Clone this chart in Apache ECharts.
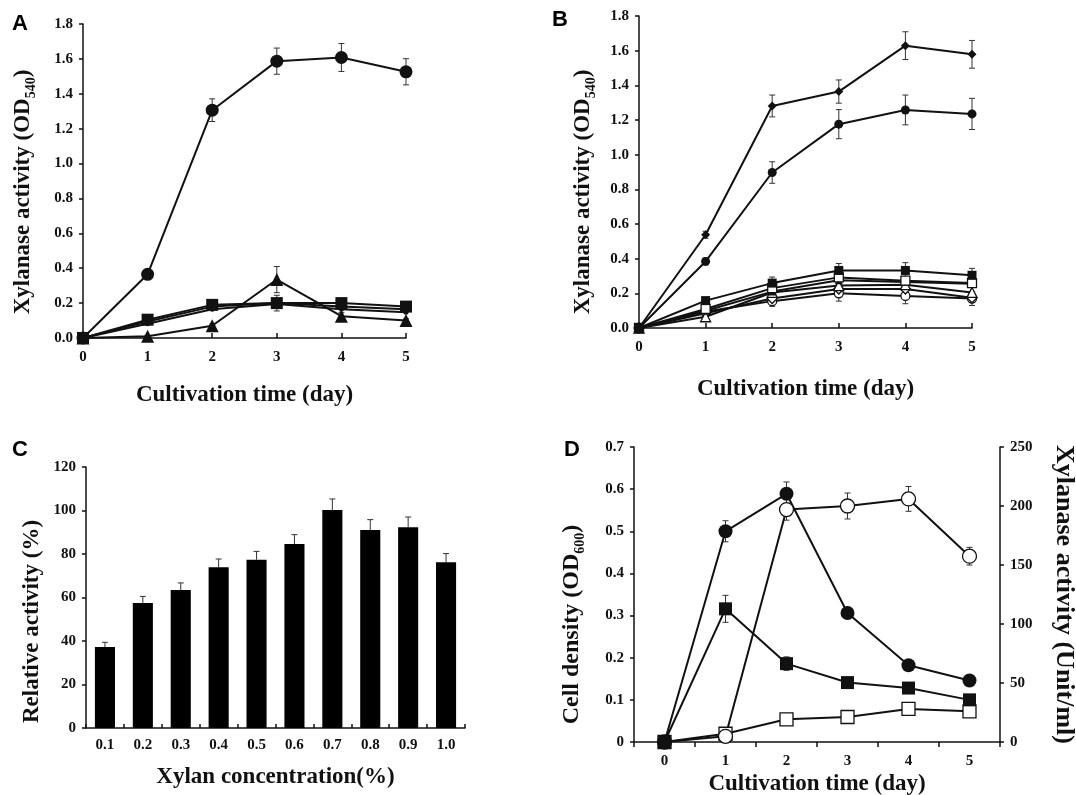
<!DOCTYPE html>
<html>
<head>
<meta charset="utf-8">
<script src="https://cdn.jsdelivr.net/npm/echarts@6/dist/echarts.min.js"></script>
<style>
  html, body { margin: 0; padding: 0; background: #fff; }
  #main { width: 1076px; height: 795px; }
</style>
</head>
<body>
<div id="main"></div>
<script>
// panel A - xylanase activity of different strains
var days = [0, 1, 2, 3, 4, 5];
var aCircle = [0, 0.365, 1.306, 1.587, 1.608, 1.526];
var aCircleErr = [0, 0.01, 0.065, 0.075, 0.08, 0.075];
var aSquare = [0, 0.105, 0.19, 0.2, 0.2, 0.18];
var aSquareErr = [0, 0.01, 0.03, 0.045, 0.02, 0.02];
var aMid = [0, 0.095, 0.18, 0.2, 0.18, 0.165];
var aLow = [0, 0.082, 0.165, 0.195, 0.165, 0.148];
var aTriangle = [0, 0.01, 0.07, 0.335, 0.125, 0.1];
var aTriangleErr = [0, 0.005, 0.01, 0.075, 0.02, 0.01];

// panel B
var bDiamond = [0, 0.538, 1.281, 1.364, 1.629, 1.579];
var bDiamondErr = [0, 0.02, 0.063, 0.067, 0.08, 0.08];
var bCircle = [0, 0.384, 0.897, 1.176, 1.258, 1.235];
var bCircleErr = [0, 0.02, 0.062, 0.084, 0.086, 0.09];
var bSquare = [0, 0.158, 0.259, 0.332, 0.332, 0.304];
var bSquareErr = [0, 0.01, 0.035, 0.04, 0.045, 0.04];
var bOpenSquare = [0, 0.11, 0.23, 0.292, 0.273, 0.259];
var bDark = [0, 0.1, 0.21, 0.275, 0.265, 0.255];
var bOpenTriangle = [0, 0.065, 0.205, 0.245, 0.25, 0.205];
var bOpenDiamond = [0, 0.085, 0.17, 0.225, 0.225, 0.175];
var bOpenCircle = [0, 0.095, 0.155, 0.2, 0.185, 0.17];
var bOpenCircleErr = [0, 0.01, 0.03, 0.045, 0.045, 0.04];

// panel C - relative activity vs xylan concentration
var xylanConc = ['0.1', '0.2', '0.3', '0.4', '0.5', '0.6', '0.7', '0.8', '0.9', '1.0'];
var relActivity = [37.2, 57.5, 63.4, 73.9, 77.4, 84.6, 100.2, 91.0, 92.3, 76.2];
var relActivityErr = [2.2, 3.0, 3.3, 3.8, 3.8, 4.3, 5.1, 4.8, 4.7, 4.0];

// panel D - cell density (left) and xylanase activity (right)
var dDays = ['0', '1', '2', '3', '4', '5'];
var dCellCircle = [0, 0.5, 0.589, 0.306, 0.182, 0.146];
var dCellCircleErr = [0, 0.025, 0.028, 0.012, 0.006, 0.005];
var dCellSquare = [0, 0.316, 0.186, 0.141, 0.128, 0.1];
var dCellSquareErr = [0, 0.032, 0.016, 0.006, 0.005, 0.005];
var dActCircle = [0, 4.8, 197, 200, 206, 157.5];
var dActCircleErr = [0, 1, 9, 11, 10.5, 7.5];
var dActSquare = [0, 7, 19.2, 21.2, 28, 26];

var serif = 'Liberation Serif';
var black = '#111';

function pairs(xs, ys) {
  return ys.map(function (v, i) { return [xs[i], v]; });
}

function lineSeries(data, xi, yi, symbol, size, open) {
  return {
    type: 'line',
    xAxisIndex: xi,
    yAxisIndex: yi,
    data: data,
    symbol: symbol,
    symbolSize: size,
    showAllSymbol: true,
    lineStyle: { color: black, width: 2 },
    itemStyle: open
      ? { color: '#fff', borderColor: black, borderWidth: 1.3 }
      : { color: black, borderColor: black, borderWidth: 0 },
    z: 3,
    animation: false
  };
}

function errSeries(xs, vals, errs, xi, yi, upOnly) {
  return {
    type: 'custom',
    xAxisIndex: xi,
    yAxisIndex: yi,
    silent: true,
    z: 2,
    animation: false,
    data: vals.map(function (v, i) { return [xs[i], v, errs[i]]; }),
    renderItem: function (params, api) {
      var x = api.value(0), y = api.value(1), e = api.value(2);
      if (!e) return;
      var top = api.coord([x, y + e]);
      var bot = api.coord(upOnly ? [x, y] : [x, y - e]);
      var st = { stroke: '#333', lineWidth: 1 };
      var kids = [
        { type: 'line', shape: { x1: top[0], y1: top[1], x2: bot[0], y2: bot[1] }, style: st },
        { type: 'line', shape: { x1: top[0] - 3, y1: top[1], x2: top[0] + 3, y2: top[1] }, style: st }
      ];
      if (!upOnly) {
        kids.push({ type: 'line', shape: { x1: bot[0] - 3, y1: bot[1], x2: bot[0] + 3, y2: bot[1] }, style: st });
      }
      return { type: 'group', children: kids };
    }
  };
}

var axisLine = { show: true, lineStyle: { color: black, width: 1.5 } };
var tickLabel = { fontFamily: serif, fontWeight: 'bold', fontSize: 15, color: black };

function nameStyle(size, pad) {
  return {
    fontFamily: serif, fontWeight: 'bold', fontSize: size, color: black,
    padding: [0, pad || 0, 0, 0],
    rich: {
      a: { fontFamily: serif, fontWeight: 'bold', fontSize: size, color: black },
      s: { fontFamily: serif, fontWeight: 'bold', fontSize: 14, color: black, verticalAlign: 'bottom', padding: [16, 0, 0, 0] }
    }
  };
}

function valueX(gi, gap) {
  return {
    type: 'value', gridIndex: gi, min: 0, max: 5, interval: 1,
    name: 'Cultivation time (day)', nameLocation: 'middle', nameGap: gap,
    nameTextStyle: nameStyle(23),
    axisLine: axisLine,
    axisTick: { show: true, inside: true, length: 5, lineStyle: { color: black, width: 1.5 } },
    axisLabel: Object.assign({ margin: 12 }, tickLabel),
    splitLine: { show: false }
  };
}

function valueY(gi, min, max, interval, name, gap, fmt, pos, size, pad) {
  return {
    type: 'value', gridIndex: gi, min: min, max: max, interval: interval,
    position: pos || 'left',
    name: name, nameLocation: 'middle', nameGap: gap, nameRotate: pos === 'right' ? -90 : 90,
    nameTextStyle: nameStyle(size || 23, pad),
    axisLine: axisLine,
    axisTick: { show: true, length: 4, lineStyle: { color: black, width: 1.5 } },
    axisLabel: Object.assign({ margin: 10, formatter: fmt }, tickLabel),
    splitLine: { show: false }
  };
}

function fix1(v) { return v.toFixed(1); }

var odName = '{a|Xylanase activity (OD}{s|540}{a|)}';

var option = {
  backgroundColor: '#fff',
  animation: false,
  title: [
    { text: 'A', left: 7, top: 8 },
    { text: 'B', left: 547, top: 4 },
    { text: 'C', left: 7, top: 434 },
    { text: 'D', left: 559, top: 434 }
  ].map(function (t) {
    t.textStyle = { fontFamily: 'Liberation Sans', fontWeight: 'bold', fontSize: 22, color: '#000' };
    return t;
  }),
  grid: [
    { left: 83, top: 24, width: 323, height: 314, outerBoundsMode: 'none' },
    { left: 639, top: 16, width: 333, height: 312, outerBoundsMode: 'none' },
    { left: 86, top: 467, width: 379, height: 261, outerBoundsMode: 'none' },
    { left: 634, top: 447, width: 366, height: 295, outerBoundsMode: 'none' }
  ],
  xAxis: [
    valueX(0, 46),
    valueX(1, 50),
    {
      type: 'category', gridIndex: 2, data: xylanConc,
      name: 'Xylan concentration(%)', nameLocation: 'middle', nameGap: 38,
      nameTextStyle: nameStyle(23),
      axisLine: axisLine,
      axisTick: { show: true, inside: true, length: 4, lineStyle: { color: black, width: 1.5 } },
      axisLabel: Object.assign({ margin: 10 }, tickLabel)
    },
    {
      type: 'category', gridIndex: 3, data: dDays, boundaryGap: true,
      name: 'Cultivation time (day)', nameLocation: 'middle', nameGap: 31,
      nameTextStyle: nameStyle(23),
      axisLine: axisLine,
      axisTick: { show: true, length: 5, lineStyle: { color: black, width: 1.5 } },
      axisLabel: Object.assign({ margin: 12 }, tickLabel)
    }
  ],
  yAxis: [
    valueY(0, 0, 1.8, 0.2, odName, 45, fix1, 'left', 23, 22),
    valueY(1, 0, 1.8, 0.2, odName, 41, fix1, 'left', 23, 40),
    valueY(2, 0, 120, 20, 'Relative activity (%)', 42, null, 'left', 23, 48),
    valueY(3, 0, 0.7, 0.1, '{a|Cell density (OD}{s|600}{a|)}', 47, null, 'left', 24, 60),
    valueY(3, 0, 250, 50, 'Xylanase activity (Unit/ml)', 51, null, 'right', 26)
  ],
  series: [
    // A
    errSeries(days, aCircle, aCircleErr, 0, 0),
    errSeries(days, aSquare, aSquareErr, 0, 0),
    errSeries(days, aTriangle, aTriangleErr, 0, 0),
    lineSeries(pairs(days, aLow), 0, 0, 'circle', 5),
    lineSeries(pairs(days, aMid), 0, 0, 'circle', 6),
    lineSeries(pairs(days, aTriangle), 0, 0, 'triangle', 13),
    lineSeries(pairs(days, aSquare), 0, 0, 'rect', 12),
    lineSeries(pairs(days, aCircle), 0, 0, 'circle', 13),
    // B
    errSeries(days, bDiamond, bDiamondErr, 1, 1),
    errSeries(days, bCircle, bCircleErr, 1, 1),
    errSeries(days, bSquare, bSquareErr, 1, 1),
    errSeries(days, bOpenCircle, bOpenCircleErr, 1, 1),
    lineSeries(pairs(days, bOpenCircle), 1, 1, 'circle', 9, true),
    lineSeries(pairs(days, bOpenDiamond), 1, 1, 'diamond', 10, true),
    lineSeries(pairs(days, bOpenTriangle), 1, 1, 'triangle', 10, true),
    lineSeries(pairs(days, bDark), 1, 1, 'triangle', 8),
    lineSeries(pairs(days, bOpenSquare), 1, 1, 'rect', 9, true),
    lineSeries(pairs(days, bSquare), 1, 1, 'rect', 9),
    lineSeries(pairs(days, bCircle), 1, 1, 'circle', 9),
    lineSeries(pairs(days, bDiamond), 1, 1, 'diamond', 9),
    // C
    {
      type: 'bar', xAxisIndex: 2, yAxisIndex: 2, data: relActivity,
      barWidth: '53%', itemStyle: { color: '#000' }, z: 2
    },
    errSeries(xylanConc.map(function (c, i) { return i; }), relActivity, relActivityErr, 2, 2, true),
    // D
    errSeries([0, 1, 2, 3, 4, 5], dCellCircle, dCellCircleErr, 3, 3),
    errSeries([0, 1, 2, 3, 4, 5], dCellSquare, dCellSquareErr, 3, 3),
    errSeries([0, 1, 2, 3, 4, 5], dActCircle, dActCircleErr, 3, 4),
    lineSeries(dActSquare, 3, 4, 'rect', 13, true),
    lineSeries(dActCircle, 3, 4, 'circle', 14, true),
    lineSeries(dCellSquare, 3, 3, 'rect', 13),
    lineSeries(dCellCircle, 3, 3, 'circle', 14)
  ]
};

var myChart = echarts.init(document.getElementById('main'), null, { renderer: 'canvas' });
myChart.setOption(option);
</script>
</body>
</html>
